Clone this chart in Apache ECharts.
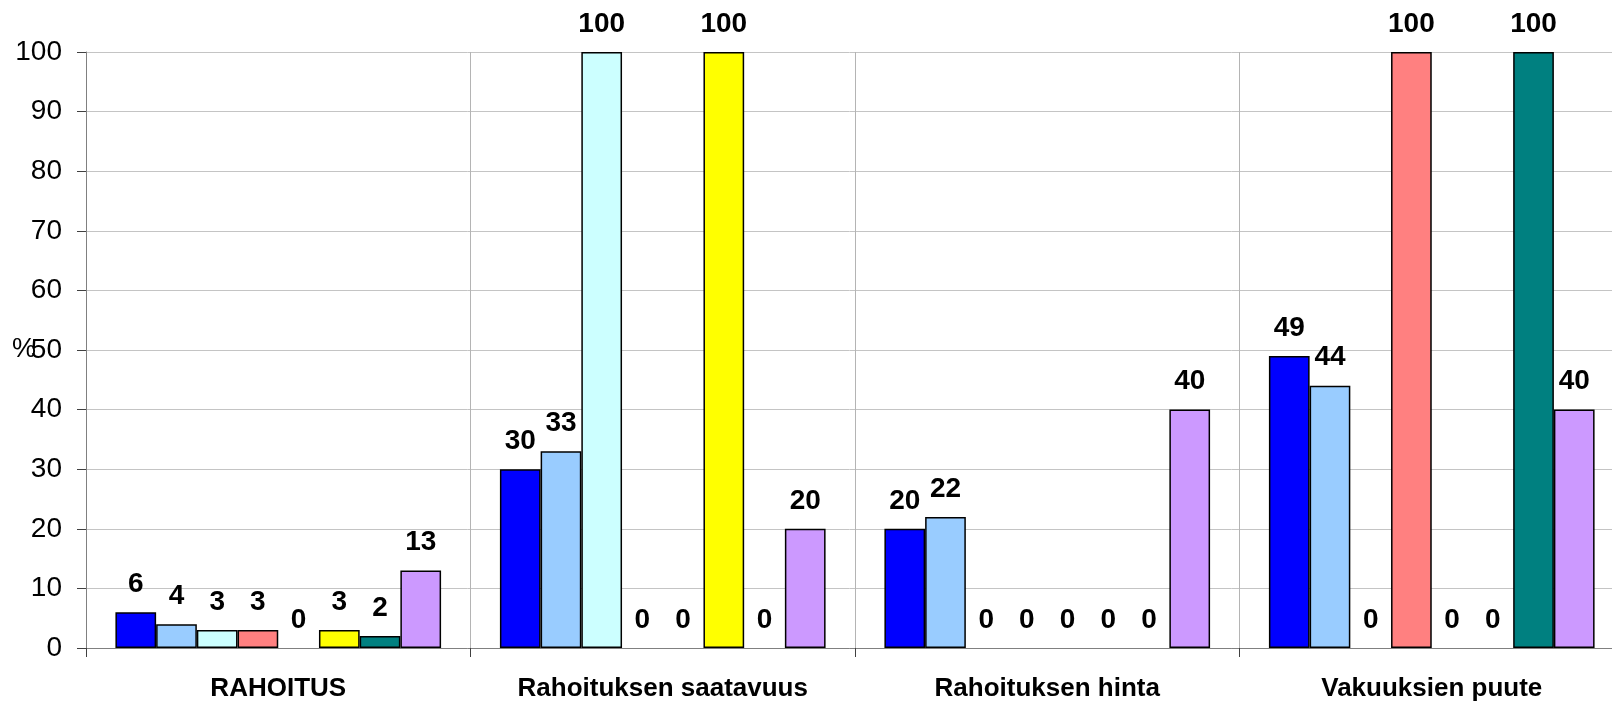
<!DOCTYPE html>
<html>
<head>
<meta charset="utf-8">
<script src="https://cdn.jsdelivr.net/npm/echarts@6/dist/echarts.min.js"></script>
<style>
html,body{margin:0;padding:0;background:#fff;}
#chart{width:1612px;height:708px;}
</style>
</head>
<body>
<div id="chart"></div>
<script>
const categories = ['RAHOITUS', 'Rahoituksen saatavuus', 'Rahoituksen hinta', 'Vakuuksien puute'];
const yTicks = { min: 0, max: 100, interval: 10 };
const s1 = [6, 30, 20, 49];
const s2 = [4, 33, 22, 44];
const s3 = [3, 100, 0, 0];
const s4 = [3, 0, 0, 100];
const s5 = [0, 0, 0, 0];
const s6 = [3, 100, 0, 0];
const s7 = [2, 0, 0, 100];
const s8 = [13, 20, 40, 40];
const seriesData = [s1, s2, s3, s4, s5, s6, s7, s8];
const colors = ['#0000FF', '#99CCFF', '#CCFFFF', '#FF8080', '#993366', '#FFFF00', '#008080', '#CC99FF'];

const chart = echarts.init(document.getElementById('chart'), null, { renderer: 'canvas' });
const font = 'Liberation Sans, Arial, sans-serif';
chart.setOption({
  animation: false,
  backgroundColor: '#ffffff',
  grid: { left: 86, top: 52, bottom: 60, right: -12, containLabel: false, outerBoundsMode: 'none' },
  xAxis: {
    type: 'category',
    data: categories,
    axisLine: { lineStyle: { color: '#808080', width: 1 } },
    axisTick: { show: true, interval: 0, length: 9, lineStyle: { color: '#404040' } },
    splitLine: { show: true, interval: 0, lineStyle: { color: '#b4b4b4', width: 1 } },
    axisLabel: { interval: 0, margin: 28, color: '#000', fontFamily: font, fontWeight: 'bold', fontSize: 26 }
  },
  yAxis: {
    type: 'value',
    min: yTicks.min, max: yTicks.max, interval: yTicks.interval,
    name: '%',
    nameLocation: 'middle',
    nameRotate: 0,
    nameGap: 50,
    nameMoveOverlap: false,
    nameTextStyle: { color: '#000', fontFamily: font, fontSize: 27 },
    axisLine: { show: true, lineStyle: { color: '#808080', width: 1 } },
    axisTick: { show: true, length: 9, lineStyle: { color: '#404040' } },
    splitLine: { show: true, lineStyle: { color: '#c4c4c4', width: 1 } },
    axisLabel: { margin: 24, color: '#000', fontFamily: font, fontSize: 28 }
  },
  series: seriesData.map((d, i) => ({
    type: 'bar',
    data: d.map(v => v === 0 ? { value: v, itemStyle: { borderWidth: 0 } } : v),
    barGap: '0%',
    barCategoryGap: '15.3%',
    itemStyle: { color: colors[i], borderColor: '#000', borderWidth: 1.5 },
    label: {
      show: true, position: 'top', distance: 14,
      color: '#000', fontFamily: font, fontWeight: 'bold', fontSize: 28
    }
  }))
});
</script>
</body>
</html>
